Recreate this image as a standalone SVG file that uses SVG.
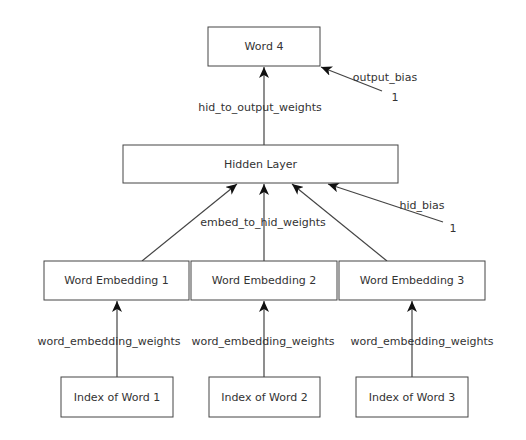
<svg xmlns="http://www.w3.org/2000/svg" width="526" height="440" viewBox="0 0 526 440">
<defs>
<marker id="ah" markerWidth="12" markerHeight="10" refX="11" refY="5" orient="auto" markerUnits="userSpaceOnUse">
<path d="M0,0 L11,5 L0,10 L3,5 Z" fill="#111"/>
</marker>
<style>
.box{fill:#fff;stroke:#444;stroke-width:1}
.t{font-family:"DejaVu Sans",sans-serif;font-size:11px;fill:#333;text-anchor:middle;dominant-baseline:central}
.c{stroke:#444;stroke-width:1.2;fill:none;marker-end:url(#ah)}
</style>
</defs>
<rect width="526" height="440" fill="#fff"/>
<g id="connectors">
<line class="c" x1="264" y1="145" x2="264" y2="67"/>
<line class="c" x1="382" y1="91" x2="321" y2="67"/>
<line class="c" x1="142" y1="261" x2="237" y2="184"/>
<line class="c" x1="264" y1="261" x2="264" y2="184"/>
<line class="c" x1="387" y1="261" x2="292" y2="184"/>
<line class="c" x1="443" y1="222" x2="328" y2="184"/>
<line class="c" x1="117" y1="377" x2="117" y2="301"/>
<line class="c" x1="264" y1="377" x2="264" y2="301"/>
<line class="c" x1="412" y1="377" x2="412" y2="301"/>
<text class="t" x="385" y="77">output_bias</text>
<text class="t" x="395" y="97">1</text>
<text class="t" x="260" y="107">hid_to_output_weights</text>
<text class="t" x="422" y="205">hid_bias</text>
<text class="t" x="453" y="228">1</text>
<text class="t" x="263" y="222">embed_to_hid_weights</text>
<text class="t" x="109" y="341">word_embedding_weights</text>
<text class="t" x="263" y="341">word_embedding_weights</text>
<text class="t" x="422" y="341">word_embedding_weights</text>
</g>
<g id="word4"><rect class="box" x="208" y="27" width="112" height="39"/><text class="t" x="264" y="46.5">Word 4</text></g>
<g id="hidden"><rect class="box" x="123" y="145" width="275" height="38"/><text class="t" x="260.5" y="164">Hidden Layer</text></g>
<g id="emb1"><rect class="box" x="44" y="261" width="145" height="39"/><text class="t" x="116.5" y="280.5">Word Embedding 1</text></g>
<g id="emb2"><rect class="box" x="191" y="261" width="146" height="39"/><text class="t" x="264" y="280.5">Word Embedding 2</text></g>
<g id="emb3"><rect class="box" x="339" y="261" width="146" height="39"/><text class="t" x="412" y="280.5">Word Embedding 3</text></g>
<g id="idx1"><rect class="box" x="61" y="377" width="112" height="40"/><text class="t" x="117" y="397">Index of Word 1</text></g>
<g id="idx2"><rect class="box" x="209" y="377" width="111" height="40"/><text class="t" x="264.5" y="397">Index of Word 2</text></g>
<g id="idx3"><rect class="box" x="356" y="377" width="112" height="40"/><text class="t" x="412" y="397">Index of Word 3</text></g>
</svg>
